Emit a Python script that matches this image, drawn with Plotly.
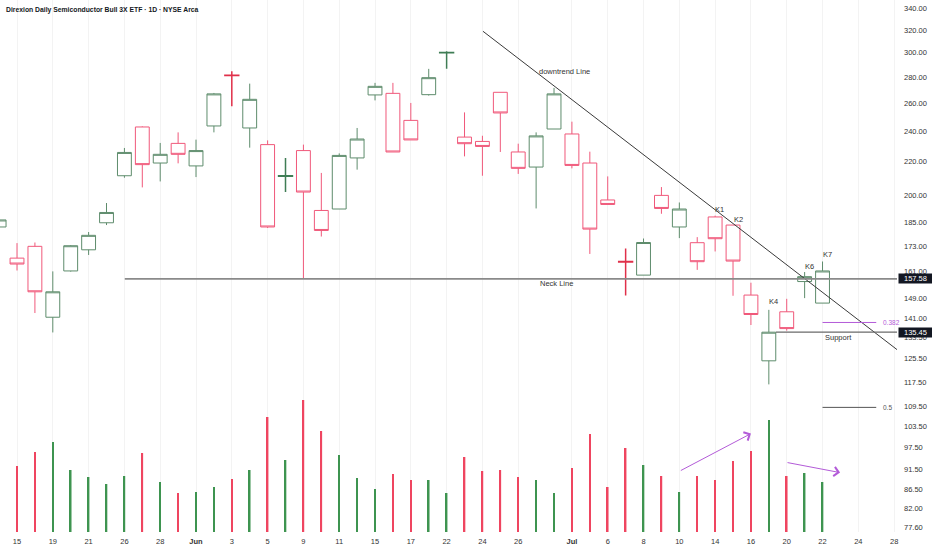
import math
import plotly.graph_objects as go

# ---------------- data ----------------
idx = list(range(-1, 46))
opens  = [182.7, 167.2, 172.9, 141.3, 161.2, 171.2, 184.9, 211.4, 242.9, 219.2, 231.8,
          217.4, 243.6, 281.5, 242.2, 231.0, 211.1, 227.1, 191.5, 192.3, 222.4, 266.1,
          267.3, 247.5, 266.3, 300.0, 236.0, 233.1, 268.1, 226.2, 216.7, 241.5, 238.1,
          219.2, 197.3, 165.6, 159.3, 199.9, 182.7, 174.7, 188.0, 183.7, 150.5, 124.8,
          143.5, 156.4, 147.1]
highs  = [187.5, 174.5, 174.8, 161.0, 173.5, 180.1, 195.6, 228.8, 243.3, 232.1, 239.2,
          234.3, 267.6, 284.6, 274.8, 233.8, 222.4, 231.0, 213.1, 225.3, 242.2, 275.4,
          275.4, 260.1, 286.6, 301.3, 253.2, 236.9, 268.1, 231.6, 239.2, 271.5, 246.6,
          226.4, 211.0, 171.9, 176.8, 204.7, 195.9, 177.5, 188.7, 183.7, 155.9, 144.3,
          148.9, 160.7, 165.6]
lows   = [182.0, 161.4, 143.0, 135.3, 160.9, 168.7, 183.7, 210.2, 204.5, 208.0, 219.0,
          210.6, 239.2, 257.6, 229.0, 182.2, 201.8, 157.6, 177.8, 192.3, 215.1, 262.0,
          226.2, 234.1, 265.6, 286.6, 223.4, 211.4, 226.2, 212.5, 192.6, 241.5, 215.9,
          169.2, 194.8, 150.3, 159.3, 189.7, 177.0, 161.7, 170.4, 150.2, 138.2, 116.7,
          136.0, 149.2, 147.1]
closes = [186.4, 164.4, 151.9, 151.9, 173.2, 178.4, 190.4, 225.9, 218.2, 224.7, 224.7,
          227.1, 266.9, 281.2, 262.8, 182.7, 211.4, 201.8, 180.9, 224.0, 234.7, 272.7,
          226.2, 234.1, 279.5, 300.2, 231.6, 229.8, 252.8, 215.9, 236.8, 266.9, 217.7,
          181.6, 194.8, 165.4, 174.8, 192.6, 192.3, 165.5, 176.7, 165.8, 142.4, 135.4,
          136.8, 158.6, 161.2]
volumes = [4.6, 6.6, 8.0, 9.0, 6.2, 5.5, 4.8, 5.6, 7.9, 5.0, 3.9, 4.0, 4.5, 5.3, 6.2,
           11.5, 7.2, 13.2, 10.1, 7.7, 5.4, 4.3, 5.8, 5.2, 5.2, 3.9, 7.5, 6.1, 6.2, 5.5,
           5.2, 3.9, 6.4, 9.8, 4.5, 8.4, 6.7, 5.6, 4.0, 5.6, 5.2, 7.1, 8.1, 11.2, 5.6,
           5.9, 5.0]

tick_idx  = [0, 2, 4, 6, 8, 10, 12, 14, 16, 18, 20, 22, 24, 26, 28, 31, 33, 35, 37,
             39, 41, 43, 45, 47, 49]
tick_text = ["15", "19", "21", "26", "28", "<b>Jun</b>", "3", "5", "9", "11", "15",
             "17", "22", "24", "26", "<b>Jul</b>", "6", "8", "10", "14", "16", "20",
             "22", "24", "28"]
price_ticks = [340, 320, 300, 280, 260, 240, 220, 200, 185, 173, 161, 149, 141, 133.5,
               125.5, 117.5, 109.5, 103.5, 97.5, 91.5, 86.5, 82, 77.6]

neck_price = 157.58
support_price = 135.45
fib_382 = 139.2
fib_50 = 109.3
trend_start = (26.03, 319.0)
trend_end = (49.17, 128.8)
k_labels = {"K1": (39.27, 192.3), "K2": (40.28, 186.5), "K4": (42.27, 147.8),
            "K6": (44.25, 163.1), "K7": (45.29, 168.8)}

# ---------------- styling ----------------
RED = "#f0587a"
GREEN = "#5e8c6c"
RED_D = "#e0304a"
GREEN_D = "#3f7d55"
VRED = "#ef4560"
VGREEN = "#3e9450"
TXT = "#333333"
PURPLE = "#b35bd8"
FONT = "Arial"

fig = go.Figure()

def group(sel):
    return dict(x=[idx[i] for i in sel], open=[opens[i] for i in sel],
                high=[highs[i] for i in sel], low=[lows[i] for i in sel],
                close=[closes[i] for i in sel])

n = len(idx)
up = [closes[i] >= opens[i] for i in range(n)]
doji = [abs(closes[i] - opens[i]) < 1.0 for i in range(n)]

for is_up, is_doji, col, w in [(True, False, GREEN, 1), (False, False, RED, 1),
                               (True, True, GREEN_D, 1.5), (False, True, RED_D, 1.5)]:
    sel = [i for i in range(n) if up[i] == is_up and doji[i] == is_doji]
    if not sel:
        continue
    fig.add_trace(go.Candlestick(
        **group(sel),
        increasing=dict(line=dict(color=col, width=w), fillcolor="white"),
        decreasing=dict(line=dict(color=col, width=w), fillcolor="white"),
        whiskerwidth=0, hoverinfo="skip", showlegend=False))

fig.add_trace(go.Bar(x=idx, y=volumes, yaxis="y2", width=0.09,
                     marker=dict(color=[VGREEN if u else VRED for u in up], line_width=0),
                     hoverinfo="skip", showlegend=False))

# lines
line_specs = [
    ([trend_start[0], trend_end[0]], [trend_start[1], trend_end[1]], "#3a3a3a", 1),
    ([6.02, 49.3], [neck_price, neck_price], "#8a8a8a", 1.6),
    ([42.4, 49.3], [support_price, support_price], "#6a6a6a", 1.3),
    ([45.0, 48.0], [fib_382, fib_382], PURPLE, 1),
    ([45.0, 48.0], [fib_50, fib_50], "#555555", 1),
]
for xs, ys, c, w in line_specs:
    fig.add_trace(go.Scatter(x=xs, y=ys, mode="lines", line=dict(color=c, width=w),
                             hoverinfo="skip", showlegend=False))

ann = []
def txt(text, x, y, xanchor="center", color=TXT, size=7.5):
    ann.append(dict(text=text, x=x, y=math.log10(y), xref="x", yref="y",
                    showarrow=False, xanchor=xanchor, yanchor="middle",
                    font=dict(family=FONT, size=size, color=color)))

txt("downtrend Line", 29.05, 284.6, "left")
txt("Neck Line", 29.1, 155.6, "left")
txt("Support", 45.03, 133.2, "left")
txt("0.382", 48.27, fib_382, "left", PURPLE, 6.5)
txt("0.5", 48.27, fib_50, "left", "#555555", 6.5)
for k, (kx, ky) in k_labels.items():
    txt(k, kx, ky)

for p in [neck_price, support_price]:
    ann.append(dict(text=f"{p:.2f}", x=1, y=math.log10(p), xref="paper", yref="y",
                    xanchor="left", yanchor="middle", xshift=1, showarrow=False,
                    width=33, height=9, bgcolor="#131722", borderpad=0,
                    font=dict(family=FONT, size=7.5, color="white")))

for (x0, v0), (x1, v1) in [((37, 6.07), (41, 9.84)), ((42.96, 6.97), (45.98, 5.94))]:
    ann.append(dict(x=x1, y=v1, ax=x0, ay=v0, xref="x", yref="y2", axref="x",
                    ayref="y2", text="", showarrow=True, arrowhead=4, arrowsize=1.8,
                    arrowwidth=1, arrowcolor=PURPLE))

ann.append(dict(text="<b>Direxion Daily Semiconductor Bull 3X ETF · 1D · NYSE Arca</b>",
                x=0, y=1, xref="paper", yref="paper", xanchor="left", yanchor="top",
                xshift=4, yshift=-4, showarrow=False,
                font=dict(family=FONT, size=6.8, color="#131722")))

fig.update_layout(
    width=932, height=550,
    margin=dict(l=0, r=35, t=0, b=18),
    paper_bgcolor="white", plot_bgcolor="white",
    boxgap=0.12, boxgroupgap=0.12,
    showlegend=False,
    annotations=ann,
    xaxis=dict(range=[-0.95, 49.16], tickmode="array", tickvals=tick_idx,
               ticktext=tick_text, showgrid=True, gridcolor="#f3f3f3", gridwidth=1,
               zeroline=False, showline=False, ticks="", rangeslider=dict(visible=False),
               ticklabelstandoff=3,
               tickfont=dict(family=FONT, size=7.5, color=TXT)),
    yaxis=dict(type="log", side="right",
               range=[math.log10(76.65), math.log10(348.7)],
               tickmode="array", tickvals=price_ticks,
               ticktext=[f"{v:.2f}" for v in price_ticks],
               showgrid=False, zeroline=False, showline=False, ticks="",
               ticklabelstandoff=6,
               tickfont=dict(family=FONT, size=7.5, color=TXT)),
    yaxis2=dict(overlaying="y", range=[0, 53.2], visible=False, fixedrange=True),
)

fig.write_html("out.html", config={"displayModeBar": False},
               post_script="document.body.style.margin='0px';"
                           "document.body.style.overflow='hidden';")
